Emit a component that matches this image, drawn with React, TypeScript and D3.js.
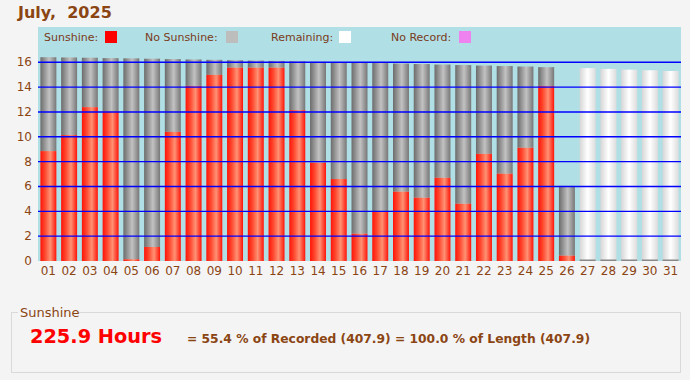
import React from "react";
import * as d3 from "d3";

const dayLabels = ["01","02","03","04","05","06","07","08","09","10","11","12","13","14","15","16","17","18","19","20","21","22","23","24","25","26","27","28","29","30","31"];
// day length (hours) shown as full bar height; day 26 recorded only partially
const dayLength = [16.41,16.39,16.37,16.34,16.32,16.29,16.26,16.23,16.2,16.17,16.14,16.11,16.08,16.04,16.01,15.97,15.94,15.9,15.86,15.82,15.78,15.74,15.7,15.66,15.61,6.05,15.53,15.47,15.41,15.36,15.3];
const sunshine = [8.85,10.14,12.39,12.04,0.14,1.13,10.4,14.1,14.99,15.57,15.57,15.57,12.15,7.91,6.6,2.2,4.0,5.58,5.1,6.7,4.61,8.63,7.03,9.12,14.1,0.43];
const recordedDays = 26;
const yTicks = [0,2,4,6,8,10,12,14,16];
const legendItems = [
  { label: "Sunshine:", color: "#ff0000", x: 44, sw: 105 },
  { label: "No Sunshine:", color: "#bdbdbd", x: 145, sw: 226 },
  { label: "Remaining:", color: "#ffffff", x: 271, sw: 339 },
  { label: "No Record:", color: "#ee82ee", x: 391, sw: 459 },
];

const BROWN = "#8B4513";
const FONT = "'DejaVu Sans', Verdana, sans-serif";

export default function App() {
  const x = d3.scaleBand<string>().domain(dayLabels).range([38, 681]).paddingInner(0.23).paddingOuter(0.115);
  const y = d3.scaleLinear().domain([0, 16]).range([261, 62.3]);
  const bw = x.bandwidth();

  return (
    <svg width={690} height={380} style={{ position: "absolute", left: 0, top: 0 }} fontFamily={FONT}>
      <defs>
        <linearGradient id="gRed" x1="0" x2="1" y1="0" y2="0">
          <stop offset="0%" stopColor="#ff1408" />
          <stop offset="30%" stopColor="#ff4a30" />
          <stop offset="62%" stopColor="#ff9274" />
          <stop offset="100%" stopColor="#ff1408" />
        </linearGradient>
        <linearGradient id="gGray" x1="0" x2="1" y1="0" y2="0">
          <stop offset="0%" stopColor="#6c6c6c" />
          <stop offset="55%" stopColor="#c2c2c2" />
          <stop offset="100%" stopColor="#777777" />
        </linearGradient>
        <linearGradient id="gWhite" x1="0" x2="1" y1="0" y2="0">
          <stop offset="0%" stopColor="#d6d6d6" />
          <stop offset="50%" stopColor="#ffffff" />
          <stop offset="100%" stopColor="#dcdcdc" />
        </linearGradient>
      </defs>
      <rect x={0} y={0} width={690} height={380} fill="#f4f4f4" />
      <text x={18} y={18} fontSize={16} fontWeight="bold" fill={BROWN} style={{ whiteSpace: "pre" }}>{"July,  2025"}</text>

      <rect x={38} y={27} width={643} height={234} fill="#b0dfe5" />
      {legendItems.map((l) => (
        <g key={l.label}>
          <text x={l.x} y={41} fontSize={11} fill="#7a3b20">{l.label}</text>
          <rect x={l.sw} y={31} width={12} height={12} fill={l.color} />
        </g>
      ))}

      {dayLabels.map((d, i) => {
        const x0 = x(d)!;
        const total = dayLength[i];
        if (i >= recordedDays) {
          return (
            <g key={d}>
              <rect x={x0} y={y(total)} width={bw} height={y(0) - y(total)} fill="url(#gWhite)" />
              <rect x={x0} y={y(0) - 1.5} width={bw} height={1.5} fill="#888" />
            </g>
          );
        }
        const s = sunshine[i];
        return (
          <g key={d}>
            <rect x={x0} y={y(total)} width={bw} height={y(s) - y(total)} fill="url(#gGray)" />
            <rect x={x0} y={y(s)} width={bw} height={y(0) - y(s)} fill="url(#gRed)" />
          </g>
        );
      })}

      {yTicks.filter((t) => t > 0).map((t) => (
        <line key={t} x1={38} x2={681} y1={y(t)} y2={y(t)} stroke="#0000ff" strokeWidth={1.4} />
      ))}
      {yTicks.map((t) => (
        <text key={t} x={32} y={y(t) + 4} fontSize={12} textAnchor="end" fill={BROWN}>{t}</text>
      ))}
      {dayLabels.map((d) => (
        <text key={d} x={x(d)! + bw / 2} y={275} fontSize={12} textAnchor="middle" fill={BROWN}>{d}</text>
      ))}

      <rect x={11.5} y={312.5} width={669} height={60} fill="none" stroke="#d9d9d9" strokeWidth={1} />
      <rect x={18} y={306} width={60} height={12} fill="#f4f4f4" />
      <text x={20} y={317} fontSize={13} fill={BROWN}>Sunshine</text>
      <text x={30} y={343} fontSize={20} fontWeight="bold" fill="#ff0000" textLength={132} lengthAdjust="spacingAndGlyphs">225.9 Hours</text>
      <text x={187} y={343} fontSize={13} fontWeight="bold" fill={BROWN} textLength={403} lengthAdjust="spacingAndGlyphs">= 55.4 % of Recorded (407.9) = 100.0 % of Length (407.9)</text>
    </svg>
  );
}
